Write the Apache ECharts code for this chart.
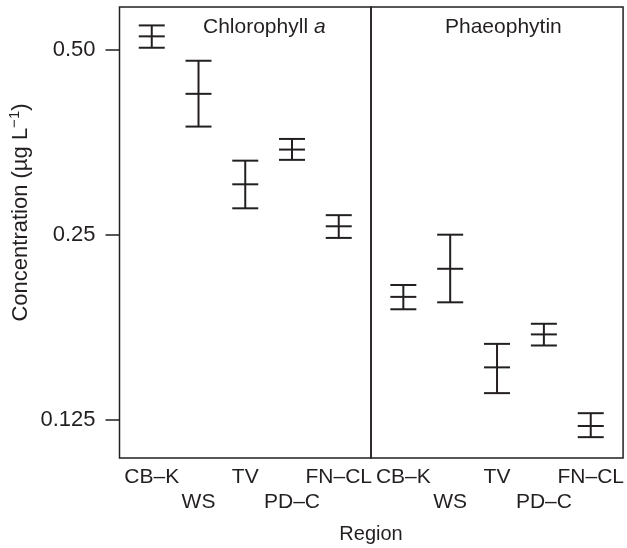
<!DOCTYPE html>
<html>
<head>
<meta charset="utf-8">
<script src="https://cdn.jsdelivr.net/npm/echarts@6/dist/echarts.min.js"></script>
<style>
  html, body { margin: 0; padding: 0; background: #fff; }
  #chart { width: 627px; height: 548px; }
</style>
</head>
<body>
<div id="chart"></div>
<script>
  // regions on the x axis (same order in both panels)
  var regions = ['CB–K', 'WS', 'TV', 'PD–C', 'FN–CL'];
  var yTicks = [0.125, 0.25, 0.5];
  var yTickLabels = ['0.125', '0.25', '0.50'];

  // chlorophyll a: lower bound, mean, upper bound (µg/L)
  var chlLow  = [0.504, 0.375, 0.276, 0.331, 0.247];
  var chlMid  = [0.526, 0.424, 0.302, 0.344, 0.258];
  var chlHigh = [0.548, 0.480, 0.330, 0.358, 0.269];

  // phaeophytin
  var phaLow  = [0.189, 0.194, 0.138, 0.165, 0.117];
  var phaMid  = [0.198, 0.220, 0.152, 0.172, 0.122];
  var phaHigh = [0.207, 0.250, 0.166, 0.179, 0.128];

  var ink = '#231f20';
  var font = "'Liberation Sans', Arial, sans-serif";

  function rows(low, mid, high) {
    return regions.map(function (r, i) { return [i + 1, low[i], mid[i], high[i]]; });
  }

  function renderBar(params, api) {
    var x = api.value(0);
    var lo = api.coord([x, api.value(1)]);
    var md = api.coord([x, api.value(2)]);
    var hi = api.coord([x, api.value(3)]);
    var w = 13;
    var st = { stroke: ink, lineWidth: 2 };
    return {
      type: 'group',
      children: [
        { type: 'line', shape: { x1: hi[0], y1: hi[1], x2: lo[0], y2: lo[1] }, style: st },
        { type: 'line', shape: { x1: hi[0] - w, y1: hi[1], x2: hi[0] + w, y2: hi[1] }, style: st },
        { type: 'line', shape: { x1: md[0] - w, y1: md[1], x2: md[0] + w, y2: md[1] }, style: st },
        { type: 'line', shape: { x1: lo[0] - w, y1: lo[1], x2: lo[0] + w, y2: lo[1] }, style: st }
      ]
    };
  }

  // labels are staggered: odd positions on the first row, even ones below
  function xAxis(idx, vals, margin) {
    return {
      type: 'value', gridIndex: idx, position: 'bottom', min: 0.31, max: 5.69,
      splitLine: { show: false }, axisLine: { show: false }, axisTick: { show: false },
      axisLabel: {
        customValues: vals, hideOverlap: false,
        margin: margin, color: ink, fontSize: 21, fontFamily: font,
        formatter: function (v) { return regions[Math.round(v) - 1]; }
      }
    };
  }

  function yAxis(idx) {
    var ax = {
      type: 'log', logBase: 2, gridIndex: idx, min: 0.1082, max: 0.5872,
      splitLine: { show: false }, axisLine: { show: false },
      axisTick: { show: idx === 0, customValues: yTicks, length: 14, lineStyle: { color: ink, width: 1.5 } },
      axisLabel: {
        show: idx === 0, customValues: yTicks, margin: 24, color: ink, fontSize: 22, fontFamily: font,
        formatter: function (v) {
          var k = yTicks.findIndex(function (t) { return Math.abs(t - v) < 1e-6; });
          return k >= 0 ? yTickLabels[k] : '';
        }
      }
    };
    if (idx === 0) {
      ax.name = '{a|Concentration (µg L}{s|−1}{a|)}';
      ax.nameLocation = 'middle';
      ax.nameGap = 86;
      ax.nameTextStyle = {
        padding: [0, 0, 0, 40],
        rich: {
          a: { fontSize: 22, fontFamily: font, color: ink, lineHeight: 26 },
          s: { fontSize: 15, fontFamily: font, color: ink, verticalAlign: 'top', lineHeight: 15 }
        }
      };
    }
    return ax;
  }

  var chart = echarts.init(document.getElementById('chart'));
  chart.setOption({
    animation: false,
    backgroundColor: '#fff',
    grid: [
      { left: 119.5, top: 7, width: 251.5, height: 451, show: true, borderColor: ink, borderWidth: 1.5 },
      { left: 371, top: 7, width: 254, height: 451, show: true, borderColor: ink, borderWidth: 1.5 }
    ],
    xAxis: [
      xAxis(0, [1, 3, 5], 9), xAxis(1, [1, 3, 5], 9),
      xAxis(0, [2, 4], 34), xAxis(1, [2, 4], 34)
    ],
    yAxis: [yAxis(0), yAxis(1)],
    graphic: [
      {
        type: 'text', x: 203, y: 27,
        style: { text: '{n|Chlorophyll }{i|a}', verticalAlign: 'middle',
          rich: { n: { fontSize: 21, fontFamily: font, fill: ink }, i: { fontSize: 21, fontFamily: font, fontStyle: 'italic', fill: ink } } }
      },
      {
        type: 'text', x: 445, y: 27,
        style: { text: 'Phaeophytin', verticalAlign: 'middle', fontSize: 21, fontFamily: font, fill: ink }
      },
      {
        type: 'text', x: 371, y: 534,
        style: { text: 'Region', align: 'center', verticalAlign: 'middle', fontSize: 20, fontFamily: font, fill: ink }
      }
    ],
    series: [
      { type: 'custom', name: 'Chlorophyll a', xAxisIndex: 0, yAxisIndex: 0, renderItem: renderBar,
        encode: { x: 0, y: [1, 2, 3] }, data: rows(chlLow, chlMid, chlHigh) },
      { type: 'custom', name: 'Phaeophytin', xAxisIndex: 1, yAxisIndex: 1, renderItem: renderBar,
        encode: { x: 0, y: [1, 2, 3] }, data: rows(phaLow, phaMid, phaHigh) }
    ]
  });
</script>
</body>
</html>
